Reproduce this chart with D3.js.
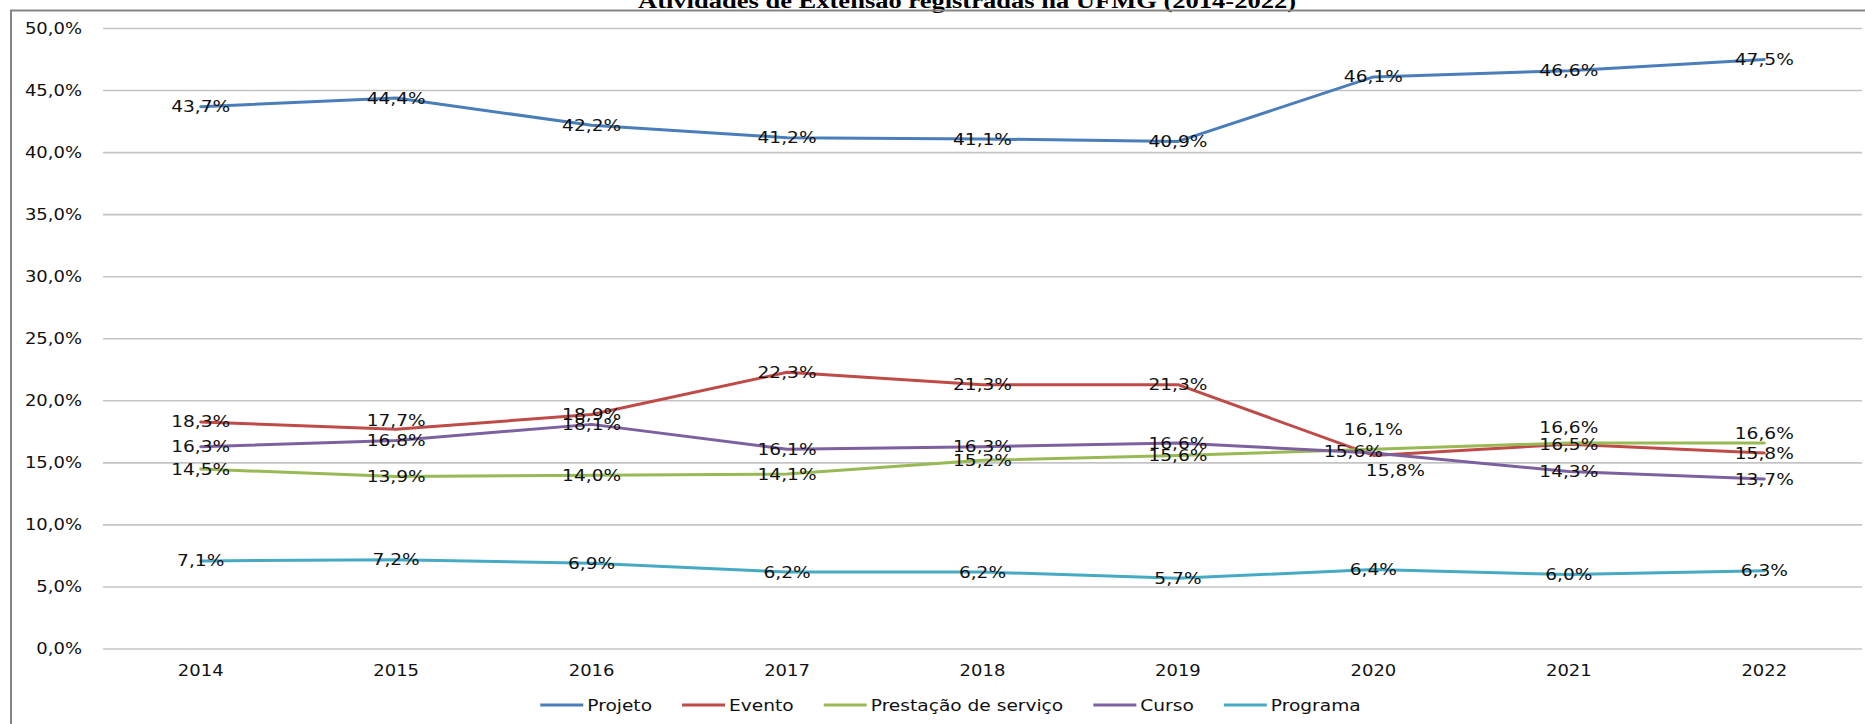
<!DOCTYPE html>
<html>
<head>
<meta charset="utf-8">
<script src="https://cdn.jsdelivr.net/npm/d3@7"></script>
<style>
  html, body { margin: 0; padding: 0; background: #fff; }
  svg { display: block; }
</style>
</head>
<body>
<svg id="chart" width="1865" height="724"></svg>
<script>
// ---------- DATA ----------
const years = ["2014", "2015", "2016", "2017", "2018", "2019", "2020", "2021", "2022"];
const seriesNames = ["Projeto", "Evento", "Prestação de serviço", "Curso", "Programa"];
const projeto   = [43.7, 44.4, 42.2, 41.2, 41.1, 40.9, 46.1, 46.6, 47.5];
const evento    = [18.3, 17.7, 18.9, 22.3, 21.3, 21.3, 15.6, 16.5, 15.8];
const prestacao = [14.5, 13.9, 14.0, 14.1, 15.2, 15.6, 16.1, 16.6, 16.6];
const curso     = [16.3, 16.8, 18.1, 16.1, 16.3, 16.6, 15.8, 14.3, 13.7];
const programa  = [7.1, 7.2, 6.9, 6.2, 6.2, 5.7, 6.4, 6.0, 6.3];
const yTicks = [0, 5, 10, 15, 20, 25, 30, 35, 40, 45, 50];
const title = "Atividades de Extensão registradas na UFMG (2014-2022)";

// ---------- STYLE ----------
const colors = ["#4a7ebb", "#be4b48", "#98b954", "#7d60a0", "#46aac5"];
const seriesValues = [projeto, evento, prestacao, curso, programa];
// manual nudges of a few data labels (series index, year index, dx, dy)
const labelNudges = [
  [1, 1, 0, -9],
  [1, 6, -20, -4],
  [2, 6, 0, -20],
  [3, 6, 22, 17],
  [2, 7, 0, -16],
  [2, 8, 0, -10]
];
const SX = 1.2;               // horizontal text stretch of the original picture
const FONT = "'DejaVu Sans', Verdana, sans-serif";

const svg = d3.select("#chart");
const W = 1865, H = 724;

const x = d3.scalePoint().domain(years).range([103, 1862]).padding(0.5);
const y = d3.scaleLinear().domain([0, 50]).range([649, 28.5]);

const fmt = v => v.toFixed(1).replace(".", ",") + "%";

function addText(g, px, py, str, size, anchor) {
  return g.append("text")
    .attr("transform", `translate(${px},${py}) scale(${SX},1)`)
    .attr("text-anchor", anchor)
    .attr("dy", "0.36em")
    .style("font-family", FONT)
    .style("font-size", size + "px")
    .style("fill", "#111")
    .text(str);
}

// background
svg.append("rect").attr("width", W).attr("height", H).attr("fill", "#fff");

// title (cut by the top edge as in the original)
svg.append("text")
  .attr("x", 638).attr("y", 8.3)
  .attr("textLength", 658).attr("lengthAdjust", "spacingAndGlyphs")
  .style("font-family", "'Liberation Serif', 'Times New Roman', serif")
  .style("font-weight", "bold")
  .style("font-size", "20px")
  .style("fill", "#000")
  .text(title);

// chart border
svg.append("rect")
  .attr("x", 11).attr("y", 10.5)
  .attr("width", 1900).attr("height", 800)
  .attr("fill", "none").attr("stroke", "#858585").attr("stroke-width", 2);

// gridlines
const grid = svg.append("g");
grid.selectAll("line").data(yTicks).join("line")
  .attr("x1", 103).attr("x2", 1862)
  .attr("y1", d => y(d)).attr("y2", d => y(d))
  .attr("stroke", "#c4c4c4").attr("stroke-width", 1.6);

// y tick labels
const yl = svg.append("g");
yTicks.forEach(t => addText(yl, 82, y(t), t.toFixed(1).replace(".", ",") + "%", 15, "end"));

// x labels
const xl = svg.append("g");
years.forEach(yr => addText(xl, x(yr), 670.5, yr, 15, "middle"));

// lines
const line = d3.line().x((d, i) => x(years[i])).y(d => y(d));
const lines = svg.append("g");
seriesValues.forEach((vals, si) => {
  lines.append("path")
    .datum(vals)
    .attr("d", line)
    .attr("fill", "none")
    .attr("stroke", colors[si])
    .attr("stroke-width", 3)
    .attr("stroke-linejoin", "round")
    .attr("stroke-linecap", "round");
});

// data labels
const labels = svg.append("g");
seriesValues.forEach((vals, si) => {
  vals.forEach((v, i) => {
    let dx = 0, dy = 0;
    labelNudges.forEach(n => { if (n[0] === si && n[1] === i) { dx = n[2]; dy = n[3]; } });
    addText(labels, x(years[i]) + dx, y(v) + dy, fmt(v), 15.5, "middle");
  });
});

// legend
const legend = svg.append("g");
const lineLen = 43, gapText = 4, gapItem = 30, legY = 705;
const items = seriesNames.map((name, i) => {
  const t = legend.append("text")
    .style("font-family", FONT).style("font-size", "15.5px")
    .attr("dy", "0.36em").style("fill", "#111").text(name);
  const w = t.node().getComputedTextLength() * SX;
  return { name, i, t, w };
});
const total = items.reduce((s, it) => s + lineLen + gapText + it.w, 0) + gapItem * (items.length - 1);
let cx = 950.5 - total / 2;
items.forEach(it => {
  legend.append("line")
    .attr("x1", cx).attr("x2", cx + lineLen)
    .attr("y1", legY).attr("y2", legY)
    .attr("stroke", colors[it.i]).attr("stroke-width", 3);
  it.t.attr("transform", `translate(${cx + lineLen + gapText},${legY}) scale(${SX},1)`);
  cx += lineLen + gapText + it.w + gapItem;
});
</script>
</body>
</html>
